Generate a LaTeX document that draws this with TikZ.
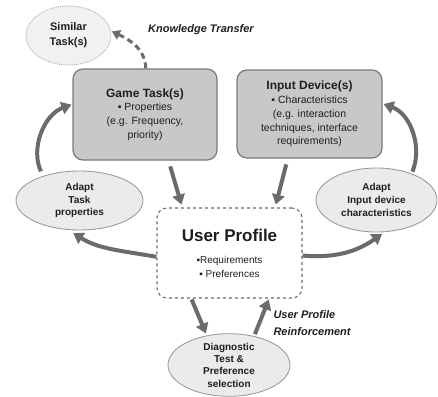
\documentclass[tikz,border=0pt]{standalone}
\usepackage{fontspec}
\setmainfont{Liberation Sans}
\usetikzlibrary{arrows.meta,shapes.geometric}
\definecolor{boxgray}{HTML}{C8C8C8}
\definecolor{boxline}{HTML}{7A7A7A}
\definecolor{ellfill}{HTML}{EBEBEB}
\definecolor{ellline}{HTML}{9C9C9C}
\definecolor{arrgray}{HTML}{6B6B6B}
\definecolor{txt}{HTML}{1E1E1E}
\begin{document}
\begin{tikzpicture}[x=1pt,y=-1pt,
  taskbox/.style={draw=boxline,line width=1.2pt,fill=boxgray,rounded corners=10pt,
    inner sep=0pt,align=center,text=txt,font=\fontsize{10.5}{13.8}\selectfont},
  adapt/.style={ellipse,draw=ellline,line width=0.9pt,fill=ellfill,inner sep=0pt,
    align=center,text=txt,font=\fontsize{10}{12.6}\selectfont\bfseries},
  bigarrow/.style={line width=4pt,arrgray,-{Triangle[length=10pt,width=12.5pt]}},
  remark/.style={font=\fontsize{11}{17}\selectfont\bfseries\itshape,text=txt},
]
\useasboundingbox (0,0) rectangle (438,396);
% 箱
\node[taskbox,minimum width=144pt,minimum height=91pt] (gt) at (145,114.5)
  {{\fontsize{12}{13.8}\selectfont\bfseries Game Task(s)}\\ ▪ Properties\\ (e.g. Frequency,\\ priority)};
\node[taskbox,minimum width=145pt,minimum height=88pt] (id) at (309.5,114)
  {{\fontsize{12}{13.8}\selectfont\bfseries Input Device(s)}\\ ▪ Characteristics\\ (e.g. interaction\\ techniques, interface\\ requirements)};
\node[draw=arrgray,dashed,line width=1.1pt,fill=white,rounded corners=10pt,inner sep=0pt,
  minimum width=145pt,minimum height=90pt,align=center,text=txt,
  font=\fontsize{10}{13.5}\selectfont] (up) at (229.5,253)
  {{\fontsize{17}{18}\selectfont\bfseries User Profile}\\[9pt] ▪Requirements\\ ▪ Preferences};
% 楕円
\node[adapt,draw=ellline!80,densely dotted,fill=ellfill!70,minimum width=85pt,minimum height=59pt,
  font=\fontsize{11}{15}\selectfont\bfseries] (sim) at (68.5,35.5) {Similar\\Task(s)};
\node[adapt,minimum width=127pt,minimum height=59pt] (at) at (79.5,200.5) {Adapt\\Task\\properties};
\node[adapt,minimum width=121pt,minimum height=64pt] (ai) at (376.5,200) {Adapt\\Input device\\characteristics};
\node[adapt,minimum width=122pt,minimum height=60pt,font=\fontsize{10}{12.3}\selectfont\bfseries]
  (dg) at (229,365) {Diagnostic\\Test \&\\Preference\\selection};
% ラベル
\node[remark] (kt) at (201,30) {Knowledge Transfer};
\node[remark,anchor=west,align=left] (upr) at (270,323) {User Profile\\Reinforcement};
% 矢印
\draw[bigarrow,shorten <=6pt,shorten >=3pt] (gt.-63) -- (up.136);
\draw[bigarrow,shorten <=6pt,shorten >=3pt] (id.-116) -- (up.45);
\draw[bigarrow,shorten >=6pt] (up.183) to[out=170,in=-32] (at.-111);
\draw[bigarrow,shorten <=5pt,shorten >=1pt] (at.146) to[out=115,in=200] (gt.172);
\draw[bigarrow,shorten >=3pt] (up.-2) to[out=-5,in=-145] (ai.-76);
\draw[bigarrow,shorten <=2pt,shorten >=1pt] (ai.37) to[out=68,in=-20] (id.8);
\draw[bigarrow,shorten <=1pt,shorten >=2pt] (up.-130) -- (dg.127);
\draw[bigarrow,shorten <=2pt,shorten >=1pt] (dg.49) -- (up.-49);
% 知識転移
\draw[line width=3pt,arrgray,dash pattern=on 6pt off 4pt,-{Triangle[length=8pt,width=10pt]},
  shorten >=1pt] (gt.89) to[out=92,in=-25] (sim.6);
\end{tikzpicture}
\end{document}
